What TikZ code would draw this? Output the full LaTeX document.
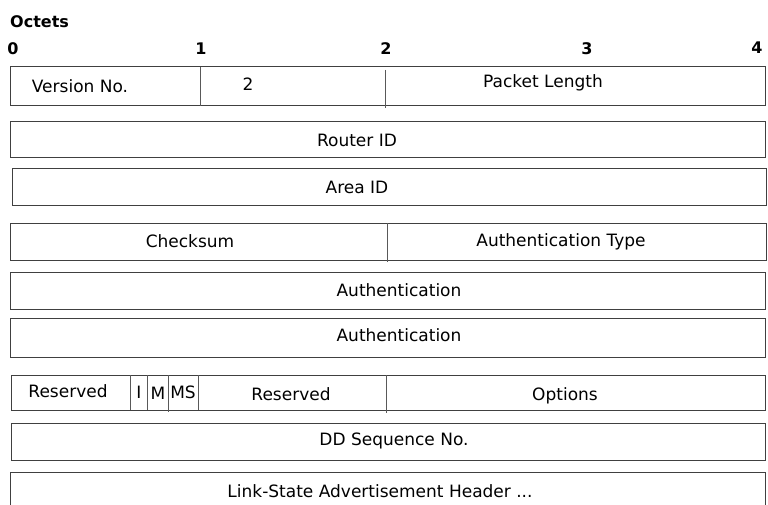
\documentclass[tikz,border=0pt]{standalone}
\usepackage{fontspec}
\setmainfont{DejaVu Sans}
\begin{document}
\begin{tikzpicture}[x=1pt,y=-1pt,
  boxline/.style={draw=black!75,line width=1pt},
  sep/.style={draw=black!65,line width=1pt},
  lbl/.style={inner sep=0pt,font=\fontsize{17}{20}\selectfont},
  octet/.style={inner sep=0pt,font=\fontsize{16}{19}\selectfont\bfseries}]
\useasboundingbox[fill=white] (0,0) rectangle (768,505);
% header
\node[octet,anchor=west] (oct) at (10,22) {Octets};
\node[octet] (o0) at (13,49) {0};
\node[octet] (o1) at (201,49) {1};
\node[octet] (o2) at (386,49) {2};
\node[octet] (o3) at (587,49) {3};
\node[octet] (o4) at (757,48) {4};
% row 1
\draw[boxline] (10,67) rectangle (765,106);
\draw[sep] (200,67) -- (200,106);
\draw[sep] (385,70) -- (385,108);
\node[lbl] (ver) at (80,86) {Version No.};
\node[lbl] (two) at (248,84) {2};
\node[lbl] (plen) at (543,83) {Packet Length};
% row 2
\draw[boxline] (10,122) rectangle (765,158);
\node[lbl] (rid) at (357,140) {Router ID};
% row 3
\draw[boxline] (12,169) rectangle (766,206);
\node[lbl] (aid) at (357,187) {Area ID};
% row 4
\draw[boxline] (10,223) rectangle (766,260);
\draw[sep] (387,223) -- (387,262);
\node[lbl] (cks) at (190,241) {Checksum};
\node[lbl] (atype) at (561,242) {Authentication Type};
% row 5
\draw[boxline] (10,272) rectangle (765,309);
\node[lbl] (auth1) at (399,290) {Authentication};
% row 6
\draw[boxline] (10,318) rectangle (765,357);
\node[lbl] (auth2) at (399,335) {Authentication};
% row 7
\draw[boxline] (11,375) rectangle (765,410);
\draw[sep] (130,375) -- (130,410);
\draw[sep] (147,375) -- (147,410);
\draw[sep] (168,375) -- (168,412);
\draw[sep] (198,375) -- (198,410);
\draw[sep] (386,375) -- (386,413);
\node[lbl] (res1) at (68,391) {Reserved};
\node[lbl] (fi) at (139,392) {I};
\node[lbl] (fm) at (158,393) {M};
\node[lbl] (fms) at (183,392) {MS};
\node[lbl] (res2) at (291,394) {Reserved};
\node[lbl] (opt) at (565,396) {Options};
% row 8
\draw[boxline] (11,423) rectangle (765,460);
\node[lbl] (dd) at (394,441) {DD Sequence No.};
% row 9
\draw[boxline] (10,510) -- (10,472) -- (765,472) -- (765,510);
\node[lbl] (lsa) at (380,491) {Link-State Advertisement Header ...};
\end{tikzpicture}
\end{document}
